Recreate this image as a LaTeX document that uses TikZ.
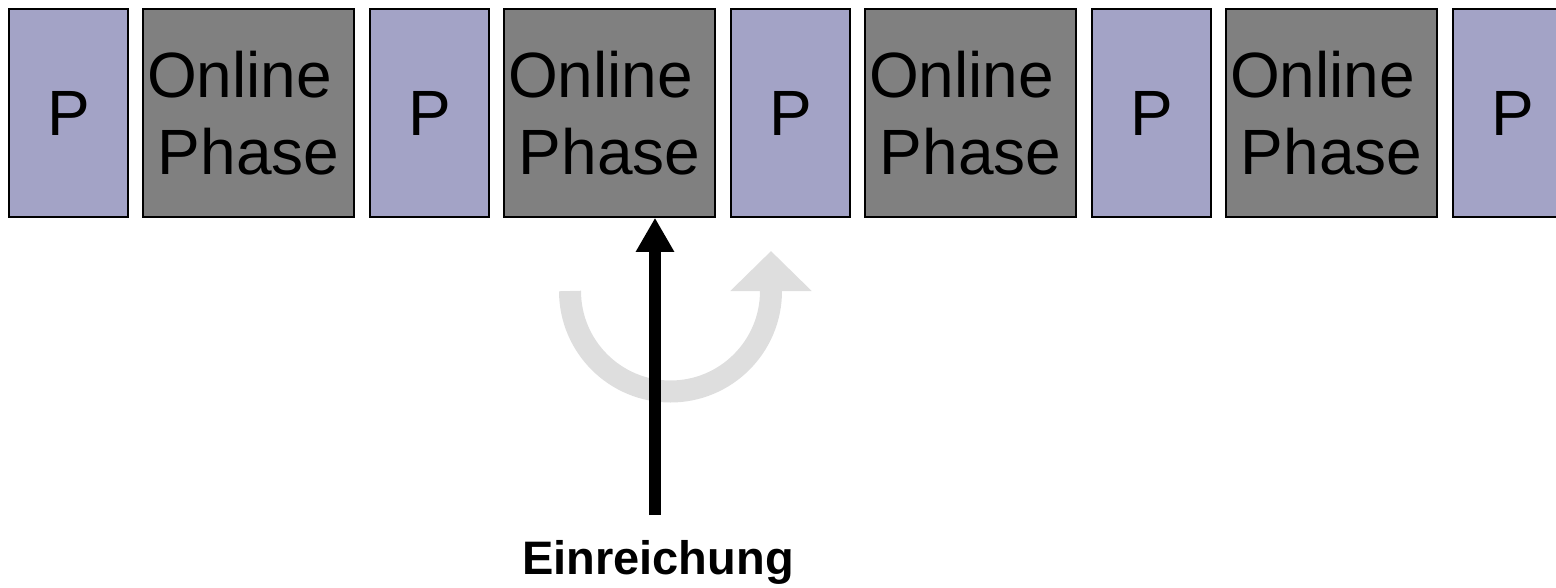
\documentclass[tikz,border=0pt]{standalone}
\usepackage{fontspec}
\setmainfont{Liberation Sans}
\usetikzlibrary{arrows.meta,positioning}
\definecolor{prepcol}{RGB}{163,163,198}
\definecolor{onlinecol}{RGB}{128,128,128}
\definecolor{turncol}{RGB}{222,222,222}

\begin{document}
\begin{tikzpicture}[x=1pt,y=-1pt,
    pbox/.style={draw,line width=1.5pt,fill=prepcol,minimum width=119pt,
      minimum height=208pt,inner sep=0pt,font=\fontsize{64}{77}\selectfont},
    obox/.style={pbox,fill=onlinecol,minimum width=211pt,align=center}]
  \useasboundingbox (0,0) rectangle (1556,587);
  % phases
  \foreach \i in {0,...,4} {
    \node[pbox,anchor=north west] (P\i) at (8.25+361*\i,8.25) {P};
  }
  \foreach \i in {0,...,3} {
    \node[obox,right=13.5pt of P\i] (O\i) {Online\kern0.278em\\Phase};
  }
  % submission
  \node[font=\bfseries\fontsize{47}{56}\selectfont,anchor=base] (submit) at (658,574) {Einreichung};
  \coordinate (foot) at (655,515);
  \draw[turncol,line width=22pt,-{Triangle[width=79pt,length=40pt]}]
    (570,291) arc [start angle=180, end angle=0, radius=100.5] -- ++(0,-40);
  \draw[line width=12pt,-{Triangle[width=36pt,length=34pt]}] (foot) -- (foot |- O1.south);
\end{tikzpicture}
\end{document}
